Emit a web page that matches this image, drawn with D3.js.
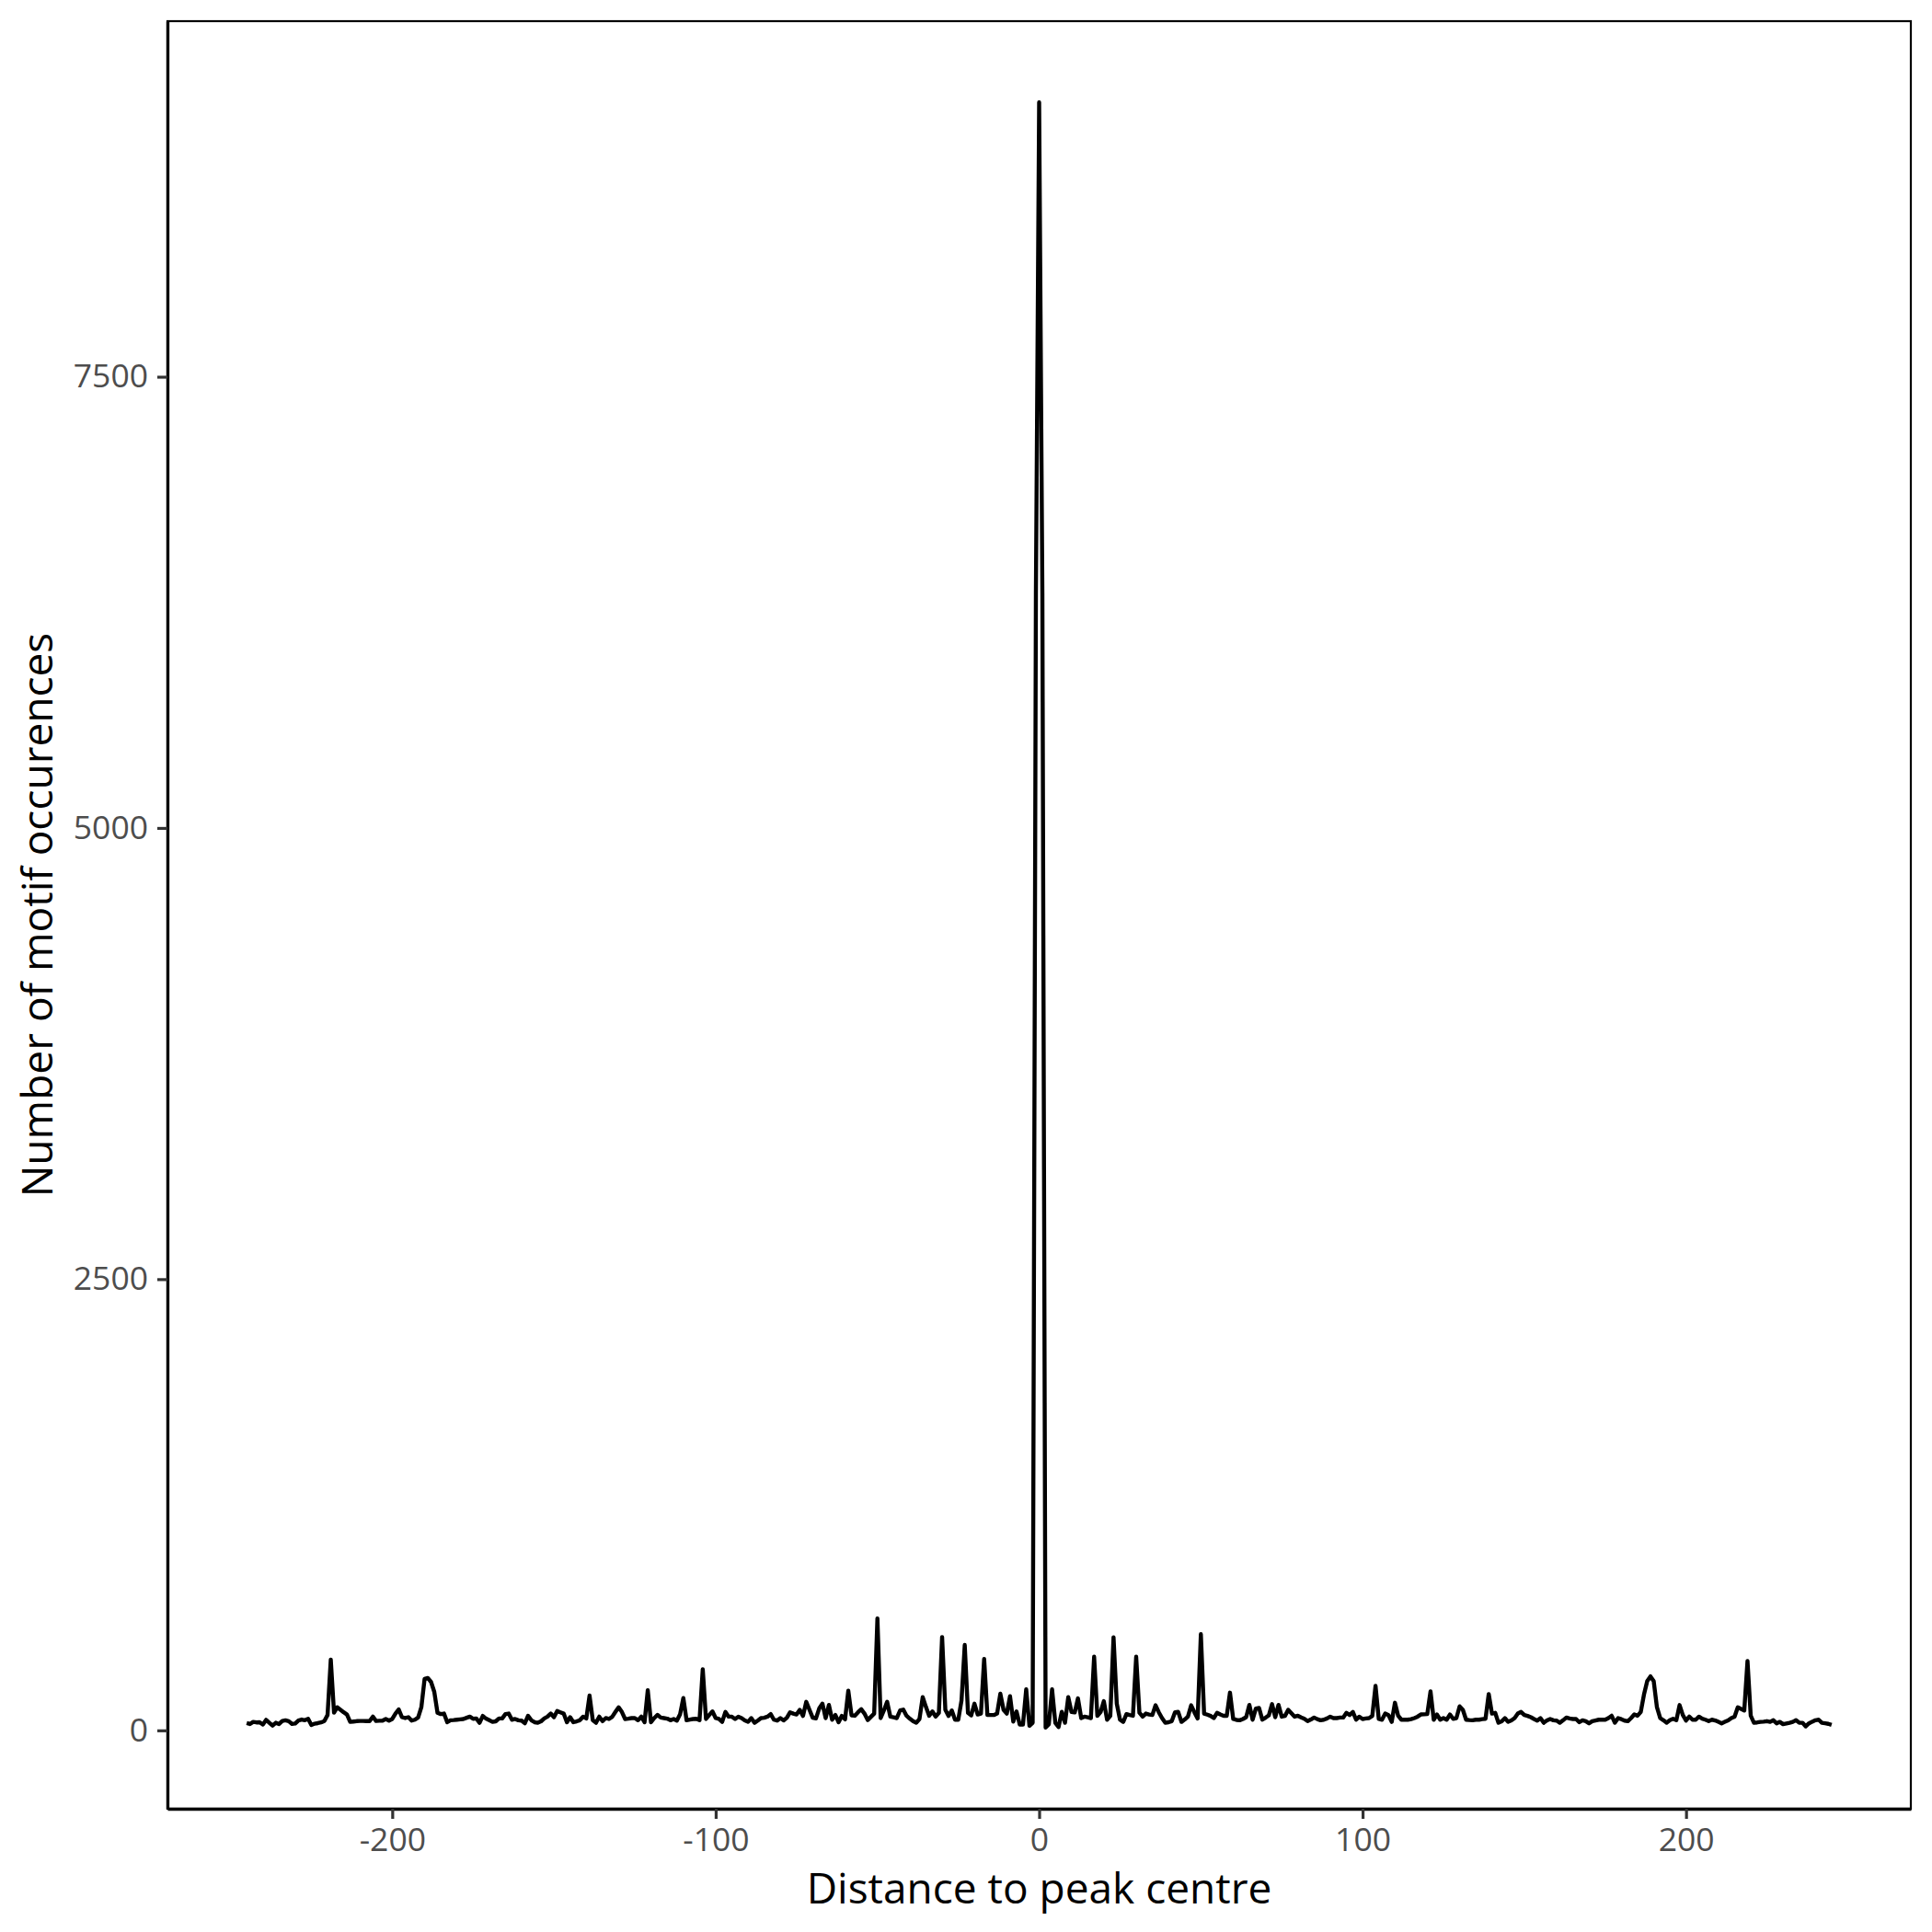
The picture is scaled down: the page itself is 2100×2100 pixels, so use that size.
<!DOCTYPE html>
<html>
<head>
<meta charset="utf-8">
<script src="https://cdn.jsdelivr.net/npm/d3@7/dist/d3.min.js"></script>
<style>
  html, body { margin: 0; padding: 0; background: #fff; }
  svg { display: block; }
</style>
</head>
<body>
<div id="chart"></div>
<script>
'use strict'

// distance to peak centre, first position of the series
var firstPosition = -245

// number of motif occurences, one value per position (-245 .. 245)
var occurences = [
  40, 35, 47, 44, 45, 32, 58, 42, 26, 42,
  35, 52, 56, 51, 36, 38, 55, 60, 56, 64,
  30, 37, 40, 44, 51, 85, 392, 98, 128, 114,
  100, 88, 47, 49, 51, 52, 52, 51, 51, 76,
  52, 53, 54, 63, 54, 63, 93, 116, 73, 68,
  73, 54, 59, 71, 128, 285, 290, 268, 213, 97,
  90, 93, 45, 56, 57, 59, 61, 63, 70, 76,
  64, 66, 42, 80, 65, 56, 47, 50, 66, 66,
  90, 93, 59, 63, 56, 54, 39, 81, 56, 45,
  42, 50, 66, 76, 93, 73, 107, 100, 93, 45,
  73, 45, 50, 56, 76, 66, 193, 56, 42, 76,
  51, 68, 63, 75, 102, 128, 102, 63, 65, 68,
  68, 56, 76, 45, 222, 45, 68, 86, 71, 68,
  65, 56, 63, 54, 90, 179, 56, 60, 63, 64,
  56, 338, 63, 85, 105, 68, 63, 47, 102, 76,
  76, 63, 76, 68, 55, 47, 68, 42, 54, 68,
  70, 76, 90, 59, 54, 68, 55, 70, 100, 93,
  88, 114, 80, 158, 114, 70, 66, 121, 148, 68,
  141, 59, 85, 45, 80, 61, 220, 83, 81, 100,
  117, 93, 57, 75, 93, 620, 68, 110, 158, 76,
  72, 68, 110, 115, 81, 65, 51, 42, 63, 184,
  130, 81, 105, 76, 97, 517, 114, 80, 110, 59,
  59, 165, 473, 97, 83, 148, 88, 93, 396, 85,
  85, 85, 93, 203, 114, 93, 189, 49, 105, 32,
  32, 228, 25, 42, 6300, 9020, 6300, 16, 34, 228,
  42, 18, 103, 42, 184, 102, 99, 177, 68, 76,
  72, 68, 408, 80, 102, 162, 59, 80, 516, 148,
  59, 47, 90, 85, 81, 408, 98, 76, 93, 88,
  85, 139, 100, 68, 42, 45, 51, 100, 102, 47,
  60, 76, 139, 100, 66, 533, 93, 87, 80, 68,
  97, 88, 81, 81, 209, 63, 58, 56, 63, 73,
  141, 59, 121, 124, 59, 70, 83, 145, 73, 141,
  76, 80, 114, 95, 76, 81, 72, 64, 51, 60,
  71, 62, 56, 59, 66, 76, 68, 68, 71, 71,
  97, 85, 102, 59, 76, 63, 66, 68, 80, 247,
  63, 59, 93, 85, 47, 153, 81, 59, 59, 59,
  62, 68, 76, 88, 89, 90, 216, 59, 88, 59,
  68, 59, 88, 64, 68, 133, 114, 59, 57, 56,
  59, 59, 62, 64, 201, 93, 97, 42, 50, 68,
  47, 55, 68, 93, 102, 85, 80, 73, 63, 54,
  68, 42, 55, 63, 56, 54, 42, 56, 71, 66,
  63, 63, 45, 56, 51, 39, 51, 55, 59, 59,
  59, 68, 81, 42, 68, 62, 54, 51, 68, 88,
  81, 102, 199, 273, 299, 273, 128, 68, 56, 42,
  56, 64, 56, 140, 85, 54, 76, 59, 59, 76,
  65, 59, 51, 59, 55, 47, 39, 47, 55, 68,
  76, 128, 119, 110, 384, 81, 42, 44, 47, 48,
  51, 47, 56, 39, 47, 34, 38, 42, 47, 56,
  42, 42, 22, 39, 48, 56, 59, 42, 39, 36,
  30
]

var xTicks = [-200, -100, 0, 100, 200]
var yTicks = [0, 2500, 5000, 7500]

var xTitle = 'Distance to peak centre'
var yTitle = 'Number of motif occurences'

var width = 2100
var height = 2100
var margin = { top: 23, right: 23, bottom: 134, left: 182 }
var font = '"Open Sans", "Noto Sans", sans-serif'

var points = occurences.map(function (v, i) {
  return { x: firstPosition + i, y: v }
})

// ggplot style 5% expansion of the data range
function expand (ext) {
  var pad = (ext[1] - ext[0]) * 0.05
  return [ext[0] - pad, ext[1] + pad]
}

// plain hyphen for negatives, like R prints them
function label (d) {
  return String(d)
}

var x = d3.scaleLinear()
  .domain(expand(d3.extent(points, function (d) { return d.x })))
  .range([margin.left, width - margin.right])

var y = d3.scaleLinear()
  .domain(expand(d3.extent(points, function (d) { return d.y })))
  .range([height - margin.bottom, margin.top])

var svg = d3.select('#chart').append('svg')
  .attr('width', width)
  .attr('height', height)
  .style('font-family', font)

svg.append('rect')
  .attr('width', width)
  .attr('height', height)
  .attr('fill', '#fff')

// the line itself
var line = d3.line()
  .x(function (d) { return x(d.x) })
  .y(function (d) { return y(d.y) })

svg.append('path')
  .datum(points)
  .attr('d', line)
  .attr('fill', 'none')
  .attr('stroke', '#000')
  .attr('stroke-width', 4.4)
  .attr('stroke-linejoin', 'round')

// thin frame round the panel
svg.append('rect')
  .attr('x', margin.left)
  .attr('y', margin.top)
  .attr('width', width - margin.left - margin.right)
  .attr('height', height - margin.top - margin.bottom)
  .attr('fill', 'none')
  .attr('stroke', '#000')
  .attr('stroke-width', 2.2)

function styleAxis (g) {
  g.select('.domain')
    .attr('stroke', '#000')
    .attr('stroke-width', 3.3)
  g.selectAll('.tick line')
    .attr('stroke', '#333333')
    .attr('stroke-width', 3.2)
  g.selectAll('.tick text')
    .attr('fill', '#4d4d4d')
    .style('font-size', '35.5px')
    .style('font-family', font)
}

var xAxis = d3.axisBottom(x)
  .tickValues(xTicks)
  .tickSize(11)
  .tickSizeOuter(0)
  .tickPadding(10)
  .tickFormat(label)

svg.append('g')
  .attr('transform', 'translate(0,' + (height - margin.bottom) + ')')
  .call(xAxis)
  .call(styleAxis)
  .call(function (g) {
    g.selectAll('.tick text').attr('dy', '0.71em')
  })

var yAxis = d3.axisLeft(y)
  .tickValues(yTicks)
  .tickSize(11)
  .tickSizeOuter(0)
  .tickPadding(10)
  .tickFormat(label)

svg.append('g')
  .attr('transform', 'translate(' + margin.left + ',0)')
  .call(yAxis)
  .call(styleAxis)

// axis titles
svg.append('text')
  .attr('x', (margin.left + width - margin.right) / 2)
  .attr('y', 2069)
  .attr('text-anchor', 'middle')
  .attr('fill', '#000')
  .style('font-size', '46px')
  .text(xTitle)

svg.append('text')
  .attr('transform', 'translate(57,' + (margin.top + height - margin.bottom) / 2 + ') rotate(-90)')
  .attr('text-anchor', 'middle')
  .attr('fill', '#000')
  .style('font-size', '46px')
  .text(yTitle)
</script>
</body>
</html>
